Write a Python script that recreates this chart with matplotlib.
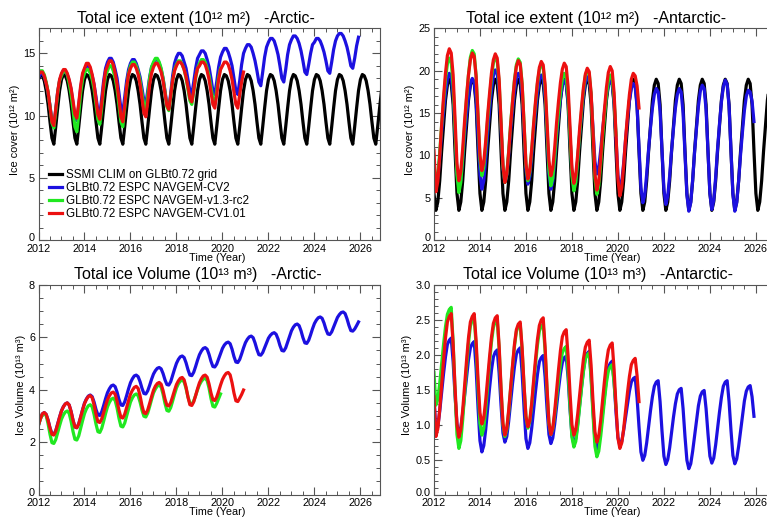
import numpy as np
import matplotlib
matplotlib.use('Agg')
import matplotlib.pyplot as plt
from matplotlib.ticker import MultipleLocator
from matplotlib.transforms import ScaledTranslation

# Monthly values, Jan 2012 onward (one row per year)
arctic_clim = [12.9, 13.3, 13.2, 12.8, 12.0, 10.9, 9.5, 8.2, 7.7, 9.1, 10.6, 12.0]
antarctic_clim = [5.5, 3.5, 4.5, 7.0, 10.5, 13.5, 16.5, 18.3, 19.0, 18.5, 16.0, 10.5]
clim_years = 15

arctic_ext_cv2 = [
    13.0, 13.4, 13.4, 13.1, 12.6, 11.8, 10.8, 9.6, 9.3, 10.5, 11.9, 12.8,
    13.3, 13.6, 13.6, 13.3, 12.8, 12.1, 11.0, 9.9, 9.6, 10.8, 12.2, 13.2,
    13.7, 14.0, 14.0, 13.7, 13.2, 12.5, 11.5, 10.4, 10.1, 11.4, 12.8, 13.8,
    14.3, 14.6, 14.6, 14.3, 13.7, 13.0, 11.8, 10.6, 10.3, 11.5, 12.8, 13.7,
    14.2, 14.5, 14.5, 14.2, 13.7, 13.1, 12.2, 11.2, 10.9, 12.0, 13.1, 13.9,
    14.2, 14.5, 14.5, 14.2, 13.7, 13.0, 12.0, 10.9, 10.6, 11.8, 13.2, 14.2,
    14.7, 15.0, 15.0, 14.8, 14.3, 13.8, 12.9, 12.0, 11.7, 12.7, 13.8, 14.6,
    14.9, 15.2, 15.2, 15.0, 14.5, 13.9, 13.0, 12.0, 11.7, 12.7, 13.9, 14.7,
    15.1, 15.4, 15.4, 15.1, 14.6, 14.0, 13.0, 12.0, 11.7, 12.8, 14.1, 15.0,
    15.4, 15.7, 15.7, 15.5, 15.0, 14.4, 13.6, 12.7, 12.4, 13.5, 14.7, 15.5,
    15.9, 16.2, 16.2, 16.0, 15.5, 14.9, 14.0, 13.0, 12.7, 13.7, 14.9, 15.7,
    16.1, 16.4, 16.4, 16.2, 15.8, 15.2, 14.4, 13.5, 13.3, 14.1, 15.0, 15.7,
    15.9, 16.2, 16.2, 16.0, 15.6, 15.1, 14.4, 13.6, 13.4, 14.3, 15.3, 16.0,
    16.4, 16.6, 16.6, 16.4, 16.0, 15.5, 14.8, 14.0, 13.8, 14.6, 15.6, 16.3]
arctic_ext_rc2 = [
    13.5, 13.6, 13.6, 13.3, 12.7, 11.9, 10.7, 9.4, 9.0, 10.3, 11.8, 12.8,
    13.2, 13.6, 13.6, 13.3, 12.6, 11.7, 10.5, 9.1, 8.7, 10.1, 11.8, 12.9,
    13.4, 13.7, 13.7, 13.4, 12.9, 12.1, 10.9, 9.7, 9.3, 10.6, 12.1, 13.2,
    13.6, 14.0, 14.0, 13.6, 13.0, 12.1, 10.8, 9.5, 9.1, 10.6, 12.2, 13.4,
    14.0, 14.3, 14.3, 14.0, 13.5, 12.8, 11.8, 10.8, 10.5, 11.6, 13.0, 13.9,
    14.3, 14.6, 14.6, 14.3, 13.8, 13.0, 11.9, 10.7, 10.4, 11.5, 12.8, 13.7,
    14.1, 14.4, 14.4, 14.1, 13.7, 13.0, 12.1, 11.2, 10.9, 11.9, 13.0, 13.8,
    14.2, 14.5, 14.5, 14.3, 13.8, 13.2, 12.3, 11.3, 11.0, 12.0, 13.1, 13.8]
arctic_ext_cv101 = [
    13.3, 13.5, 13.5, 13.2, 12.6, 11.9, 10.7, 9.5, 9.2, 10.5, 11.9, 12.9,
    13.4, 13.7, 13.7, 13.4, 12.9, 12.2, 11.2, 10.1, 9.8, 11.0, 12.4, 13.4,
    13.8, 14.2, 14.2, 13.9, 13.3, 12.5, 11.3, 10.1, 9.7, 11.0, 12.5, 13.6,
    14.0, 14.4, 14.4, 14.1, 13.4, 12.5, 11.3, 9.9, 9.5, 10.8, 12.3, 13.3,
    13.8, 14.1, 14.1, 13.8, 13.3, 12.5, 11.4, 10.2, 9.9, 11.1, 12.5, 13.4,
    13.9, 14.2, 14.2, 13.9, 13.5, 12.8, 11.8, 10.8, 10.5, 11.6, 12.8, 13.6,
    14.0, 14.3, 14.3, 14.1, 13.7, 13.1, 12.3, 11.4, 11.1, 12.0, 13.1, 13.8,
    14.0, 14.3, 14.3, 14.1, 13.6, 12.9, 11.9, 10.9, 10.6, 11.7, 12.9, 13.7,
    14.0, 14.3, 14.3, 14.1, 13.6, 12.9, 11.9, 10.9, 10.6, 11.7, 12.7, 13.5]

antarctic_ext_cv2 = [
    7.4, 6.4, 7.3, 9.7, 12.7, 15.2, 17.4, 19.0, 19.7, 19.3, 17.0, 12.5,
    8.0, 6.2, 7.1, 9.4, 12.3, 14.7, 16.9, 18.5, 19.1, 18.7, 16.5, 12.2,
    7.7, 6.0, 7.0, 9.5, 12.6, 15.3, 17.7, 19.4, 20.1, 19.7, 17.4, 13.1,
    8.5, 6.8, 7.7, 10.0, 12.9, 15.3, 17.5, 19.1, 19.7, 19.3, 17.1, 12.8,
    8.3, 6.6, 7.5, 9.8, 12.7, 15.1, 17.3, 18.9, 19.5, 19.1, 16.8, 12.3,
    7.8, 6.0, 6.9, 9.2, 12.1, 14.5, 16.7, 18.3, 18.9, 18.5, 16.4, 12.2,
    7.9, 6.2, 7.1, 9.5, 12.4, 14.8, 17.1, 18.6, 19.3, 19.0, 17.0, 13.2,
    9.3, 7.8, 8.6, 10.6, 13.0, 15.1, 17.0, 18.3, 18.9, 18.5, 16.3, 12.1,
    7.7, 6.0, 6.9, 9.1, 11.9, 14.3, 16.4, 17.9, 18.5, 18.1, 15.7, 11.0,
    6.2, 4.4, 5.3, 7.8, 10.7, 13.3, 15.6, 17.2, 17.9, 17.5, 15.2, 10.6,
    6.0, 4.2, 5.2, 7.6, 10.6, 13.2, 15.6, 17.2, 17.9, 17.5, 15.0, 10.2,
    5.3, 3.4, 4.4, 7.1, 10.4, 13.2, 15.8, 17.6, 18.3, 17.9, 15.4, 10.5,
    5.5, 3.6, 4.7, 7.4, 10.8, 13.7, 16.3, 18.1, 18.9, 18.4, 15.8, 10.7,
    5.4, 3.4, 4.4, 7.0, 10.1, 12.8, 15.3, 17.0, 17.7, 17.5, 16.4, 14.0]
antarctic_ext_rc2 = [
    9.0, 6.5, 7.6, 10.3, 13.6, 16.4, 19.0, 20.8, 21.5, 21.0, 18.3, 13.1,
    7.7, 5.6, 6.8, 9.8, 13.5, 16.7, 19.5, 21.6, 22.4, 22.0, 19.4, 14.6,
    9.5, 7.6, 8.6, 11.1, 14.2, 16.8, 19.2, 20.9, 21.6, 21.2, 18.6, 13.8,
    8.7, 6.8, 7.8, 10.5, 13.7, 16.4, 18.9, 20.7, 21.4, 21.0, 18.5, 13.8,
    8.9, 7.0, 8.0, 10.5, 13.5, 16.1, 18.5, 20.1, 20.8, 20.4, 17.9, 13.2,
    8.3, 6.4, 7.3, 9.7, 12.7, 15.2, 17.4, 19.0, 19.7, 19.3, 17.0, 12.3,
    7.6, 5.8, 6.8, 9.4, 12.5, 15.2, 17.7, 19.4, 20.1, 19.7, 17.2, 12.3,
    7.3, 5.4, 6.4, 8.9, 12.0, 14.7, 17.1, 18.8, 19.5, 19.1, 16.8, 12.4]
antarctic_ext_cv101 = [
    10.6, 5.7, 6.9, 9.9, 13.6, 16.9, 19.7, 21.8, 22.6, 22.1, 19.5, 14.3,
    9.0, 7.0, 8.1, 10.8, 14.1, 17.0, 19.5, 21.3, 22.1, 21.7, 19.3, 14.7,
    10.0, 8.2, 9.2, 11.7, 14.7, 17.3, 19.7, 21.3, 22.0, 21.5, 19.0, 14.0,
    8.8, 6.8, 7.8, 10.4, 13.6, 16.3, 18.8, 20.5, 21.2, 20.8, 18.4, 13.8,
    9.0, 7.2, 8.2, 10.7, 13.7, 16.4, 18.7, 20.4, 21.1, 20.7, 18.4, 13.9,
    9.4, 7.6, 8.5, 10.9, 13.9, 16.4, 18.6, 20.2, 20.9, 20.5, 18.1, 13.4,
    8.5, 6.7, 7.7, 10.1, 13.1, 15.7, 18.0, 19.6, 20.3, 19.9, 17.4, 12.7,
    7.8, 5.9, 6.9, 9.6, 12.8, 15.5, 18.0, 19.8, 20.5, 20.0, 17.4, 12.4,
    7.2, 5.2, 6.2, 8.8, 12.0, 14.8, 17.2, 19.0, 19.7, 19.4, 18.2, 15.6]

arctic_vol_cv2 = [
    2.65, 2.90, 3.08, 3.13, 3.06, 2.84, 2.55, 2.32, 2.30, 2.44, 2.70, 2.96,
    3.20, 3.36, 3.46, 3.50, 3.42, 3.17, 2.84, 2.58, 2.55, 2.70, 2.96, 3.24,
    3.49, 3.65, 3.76, 3.80, 3.74, 3.53, 3.25, 3.04, 3.02, 3.16, 3.40, 3.66,
    3.89, 4.04, 4.15, 4.18, 4.12, 3.91, 3.63, 3.42, 3.40, 3.54, 3.78, 4.04,
    4.27, 4.42, 4.53, 4.56, 4.50, 4.31, 4.06, 3.86, 3.84, 3.96, 4.17, 4.40,
    4.60, 4.73, 4.82, 4.85, 4.80, 4.62, 4.38, 4.20, 4.18, 4.31, 4.55, 4.79,
    5.01, 5.16, 5.26, 5.29, 5.23, 5.03, 4.77, 4.56, 4.54, 4.67, 4.89, 5.13,
    5.34, 5.48, 5.58, 5.61, 5.55, 5.35, 5.09, 4.89, 4.87, 4.98, 5.18, 5.39,
    5.58, 5.71, 5.79, 5.82, 5.76, 5.55, 5.27, 5.06, 5.04, 5.16, 5.37, 5.60,
    5.80, 5.93, 6.02, 6.05, 5.99, 5.79, 5.54, 5.34, 5.32, 5.42, 5.60, 5.79,
    5.97, 6.08, 6.15, 6.18, 6.12, 5.94, 5.69, 5.50, 5.48, 5.60, 5.82, 6.05,
    6.25, 6.39, 6.48, 6.51, 6.45, 6.25, 5.99, 5.79, 5.77, 5.89, 6.10, 6.33,
    6.53, 6.66, 6.75, 6.78, 6.73, 6.55, 6.31, 6.13, 6.11, 6.21, 6.39, 6.58,
    6.76, 6.87, 6.95, 6.97, 6.91, 6.71, 6.46, 6.26, 6.24, 6.32, 6.45, 6.59]
arctic_vol_rc2 = [
    2.65, 2.88, 3.05, 3.10, 3.01, 2.70, 2.30, 1.98, 1.95, 2.10, 2.36, 2.63,
    2.88, 3.04, 3.15, 3.19, 3.10, 2.80, 2.41, 2.11, 2.08, 2.24, 2.53, 2.82,
    3.09, 3.27, 3.39, 3.43, 3.35, 3.06, 2.69, 2.40, 2.37, 2.53, 2.80, 3.09,
    3.35, 3.52, 3.64, 3.68, 3.59, 3.30, 2.91, 2.61, 2.58, 2.73, 3.00, 3.27,
    3.53, 3.69, 3.80, 3.84, 3.77, 3.53, 3.22, 2.99, 2.96, 3.11, 3.36, 3.63,
    3.88, 4.03, 4.14, 4.18, 4.10, 3.83, 3.48, 3.21, 3.18, 3.32, 3.57, 3.83,
    4.07, 4.23, 4.33, 4.37, 4.30, 4.05, 3.73, 3.48, 3.45, 3.57, 3.78, 4.00,
    4.19, 4.32, 4.41, 4.44, 4.35, 4.06, 3.67, 3.37, 3.34, 3.48, 3.66, 3.84]
arctic_vol_cv101 = [
    2.65, 2.90, 3.08, 3.13, 3.06, 2.83, 2.53, 2.30, 2.27, 2.42, 2.68, 2.95,
    3.19, 3.35, 3.46, 3.50, 3.42, 3.17, 2.84, 2.58, 2.55, 2.70, 2.96, 3.23,
    3.47, 3.63, 3.74, 3.78, 3.70, 3.42, 3.06, 2.78, 2.75, 2.89, 3.13, 3.39,
    3.62, 3.77, 3.88, 3.91, 3.83, 3.56, 3.22, 2.95, 2.92, 3.07, 3.32, 3.59,
    3.83, 3.98, 4.09, 4.13, 4.05, 3.77, 3.40, 3.12, 3.09, 3.23, 3.48, 3.74,
    3.98, 4.14, 4.24, 4.28, 4.21, 3.97, 3.65, 3.41, 3.38, 3.51, 3.74, 3.98,
    4.20, 4.34, 4.44, 4.47, 4.38, 4.10, 3.72, 3.43, 3.40, 3.54, 3.78, 4.04,
    4.27, 4.42, 4.53, 4.56, 4.48, 4.22, 3.88, 3.62, 3.59, 3.72, 3.94, 4.18,
    4.39, 4.53, 4.63, 4.66, 4.57, 4.27, 3.88, 3.58, 3.55, 3.68, 3.82, 3.99]

antarctic_vol_cv2 = [
    1.42, 0.89, 0.97, 1.19, 1.46, 1.73, 1.97, 2.15, 2.21, 2.24, 1.90, 1.42,
    1.01, 0.87, 0.95, 1.16, 1.42, 1.69, 1.93, 2.10, 2.16, 2.19, 1.80, 1.24,
    0.77, 0.61, 0.70, 0.93, 1.22, 1.52, 1.78, 1.97, 2.04, 2.07, 1.74, 1.28,
    0.88, 0.75, 0.83, 1.05, 1.32, 1.59, 1.83, 2.01, 2.07, 2.10, 1.74, 1.24,
    0.80, 0.66, 0.74, 0.95, 1.22, 1.48, 1.72, 1.90, 1.96, 1.99, 1.68, 1.23,
    0.86, 0.73, 0.81, 1.01, 1.26, 1.51, 1.73, 1.89, 1.96, 1.98, 1.67, 1.22,
    0.85, 0.72, 0.80, 1.01, 1.28, 1.54, 1.78, 1.96, 2.02, 2.05, 1.70, 1.20,
    0.78, 0.64, 0.72, 0.92, 1.17, 1.43, 1.66, 1.82, 1.88, 1.91, 1.61, 1.18,
    0.82, 0.70, 0.76, 0.92, 1.11, 1.31, 1.48, 1.61, 1.66, 1.68, 1.38, 0.97,
    0.61, 0.49, 0.56, 0.74, 0.97, 1.20, 1.40, 1.55, 1.61, 1.63, 1.33, 0.91,
    0.55, 0.43, 0.50, 0.67, 0.89, 1.11, 1.30, 1.44, 1.50, 1.52, 1.23, 0.83,
    0.49, 0.37, 0.44, 0.62, 0.84, 1.06, 1.27, 1.41, 1.47, 1.49, 1.23, 0.87,
    0.55, 0.45, 0.52, 0.71, 0.95, 1.18, 1.39, 1.55, 1.61, 1.63, 1.33, 0.92,
    0.56, 0.44, 0.51, 0.69, 0.91, 1.13, 1.34, 1.48, 1.54, 1.56, 1.40, 1.12]
antarctic_vol_rc2 = [
    1.75, 1.28, 1.36, 1.59, 1.87, 2.15, 2.40, 2.58, 2.65, 2.68, 2.18, 1.47,
    0.86, 0.66, 0.77, 1.07, 1.45, 1.83, 2.16, 2.41, 2.50, 2.54, 2.12, 1.53,
    1.02, 0.85, 0.95, 1.22, 1.55, 1.88, 2.18, 2.39, 2.48, 2.51, 2.09, 1.50,
    1.00, 0.83, 0.93, 1.18, 1.51, 1.83, 2.12, 2.33, 2.41, 2.44, 2.07, 1.55,
    1.11, 0.95, 1.04, 1.28, 1.58, 1.87, 2.14, 2.34, 2.41, 2.44, 2.05, 1.49,
    1.02, 0.86, 0.94, 1.14, 1.39, 1.64, 1.87, 2.03, 2.09, 2.12, 1.76, 1.26,
    0.82, 0.68, 0.76, 0.98, 1.25, 1.52, 1.76, 1.94, 2.00, 2.03, 1.66, 1.14,
    0.69, 0.54, 0.62, 0.83, 1.09, 1.36, 1.60, 1.77, 1.83, 1.86, 1.60, 1.25]
antarctic_vol_cv101 = [
    1.40, 0.83, 0.94, 1.22, 1.57, 1.92, 2.24, 2.47, 2.55, 2.59, 2.15, 1.53,
    1.00, 0.82, 0.93, 1.21, 1.56, 1.92, 2.24, 2.47, 2.55, 2.59, 2.20, 1.64,
    1.17, 1.01, 1.10, 1.35, 1.66, 1.97, 2.25, 2.45, 2.53, 2.56, 2.13, 1.53,
    1.02, 0.85, 0.95, 1.21, 1.53, 1.85, 2.15, 2.36, 2.44, 2.47, 2.10, 1.57,
    1.12, 0.97, 1.06, 1.31, 1.63, 1.94, 2.22, 2.42, 2.50, 2.53, 2.11, 1.53,
    1.03, 0.86, 0.95, 1.19, 1.49, 1.79, 2.06, 2.26, 2.33, 2.36, 1.98, 1.45,
    1.00, 0.85, 0.93, 1.15, 1.42, 1.69, 1.94, 2.11, 2.18, 2.21, 1.85, 1.33,
    0.90, 0.75, 0.84, 1.06, 1.35, 1.63, 1.89, 2.07, 2.14, 2.17, 1.79, 1.26,
    0.81, 0.66, 0.74, 0.94, 1.20, 1.46, 1.69, 1.86, 1.92, 1.95, 1.70, 1.33]

legend_labels = ['SSMI CLIM on GLBt0.72 grid', 'GLBt0.72 ESPC NAVGEM-CV2',
                 'GLBt0.72 ESPC NAVGEM-v1.3-rc2', 'GLBt0.72 ESPC NAVGEM-CV1.01']
colors = ['black', '#1c10e0', '#20e820', '#ec1010']

plt.rcParams['font.family'] = ['Liberation Sans', 'DejaVu Sans']


def months(values):
    return 2012 + np.arange(len(values)) / 12.0


def style(ax, ylim, ymaj, ymin, ylabel, title, tx):
    ax.set_xlim(2012, 2026.85)
    ax.set_ylim(*ylim)
    ax.xaxis.set_major_locator(MultipleLocator(2))
    ax.xaxis.set_minor_locator(MultipleLocator(0.5))
    ax.yaxis.set_major_locator(MultipleLocator(ymaj))
    ax.yaxis.set_minor_locator(MultipleLocator(ymin))
    ax.ticklabel_format(useOffset=False, axis='x')
    ax.tick_params(which='both', direction='in', top=True, right=True,
                   color='#555555', labelsize=7.8)
    ax.tick_params(axis='x', pad=2.6)
    ax.tick_params(axis='y', pad=2.5)
    ax.tick_params(which='major', length=5.8, width=0.8)
    ax.tick_params(which='minor', length=2.9, width=0.7)
    for s in ax.spines.values():
        s.set_color('#555555')
        s.set_linewidth(0.8)
    ax.set_title(title, x=tx, fontsize=11.5, pad=4)
    ax.set_xlabel('Time (Year)', fontsize=7.8, labelpad=-0.6)
    ax.xaxis.label.set_x(0.522)
    ax.set_ylabel(ylabel, fontsize=7.9, labelpad=2)
    ax.yaxis.label.set_y(0.523)


fig = plt.figure(figsize=(7.67, 5.2), dpi=100)
w = 0.4452
ax_ae = fig.add_axes([0.0502, 0.5385, w, 0.4067])
ax_se = fig.add_axes([0.5658, 0.5385, w, 0.4067])
ax_av = fig.add_axes([0.0502, 0.049, w, 0.4029])
ax_sv = fig.add_axes([0.5658, 0.049, w, 0.4029])

lw = 2.3
clim_a = np.tile(arctic_clim, clim_years)
clim_s = np.tile(antarctic_clim, clim_years)
for ax, clim, runs in [
        (ax_ae, clim_a, [arctic_ext_cv2, arctic_ext_rc2, arctic_ext_cv101]),
        (ax_se, clim_s, [antarctic_ext_cv2, antarctic_ext_rc2, antarctic_ext_cv101])]:
    ax.plot(months(clim), clim, color=colors[0], lw=lw, label=legend_labels[0])
    for vals, c, lab in zip(runs, colors[1:], legend_labels[1:]):
        ax.plot(months(vals), vals, color=c, lw=lw, label=lab)

for ax, runs in [(ax_av, [arctic_vol_cv2, arctic_vol_rc2, arctic_vol_cv101]),
                 (ax_sv, [antarctic_vol_cv2, antarctic_vol_rc2, antarctic_vol_cv101])]:
    for vals, c in zip(runs, colors[1:]):
        ax.plot(months(vals), vals, color=c, lw=lw)

style(ax_ae, (0, 17), 5, 1, 'Ice cover (10¹² m²)',
      'Total ice extent (10¹² m²)   -Arctic-', 0.462)
style(ax_se, (0, 25), 5, 1, 'Ice cover (10¹² m²)',
      'Total ice extent (10¹² m²)   -Antarctic-', 0.476)
style(ax_av, (0, 8), 2, 0.5, 'Ice Volume (10¹³ m³)',
      'Total ice Volume (10¹³ m³)   -Arctic-', 0.467)
style(ax_sv, (0, 3), 0.5, 0.1, 'Ice Volume (10¹³ m³)',
      'Total ice Volume (10¹³ m³)   -Antarctic-', 0.481)

ax_ae.legend(loc='upper left', bbox_to_anchor=(0.031, 0.336), frameon=False,
             borderpad=0, borderaxespad=0, handlelength=1.1, handletextpad=0.35,
             labelspacing=0.09, prop={'size': 8.4})

# lift the "0" y label a little off the corner, as in the original
fig.canvas.draw()
for ax in (ax_ae, ax_se, ax_av, ax_sv):
    for tick in ax.yaxis.get_major_ticks():
        if abs(tick.get_loc()) < 1e-9:
            tick.label1.set_transform(tick.label1.get_transform() +
                                      ScaledTranslation(0, 0.025, fig.dpi_scale_trans))

fig.savefig('out.png', dpi=100)
